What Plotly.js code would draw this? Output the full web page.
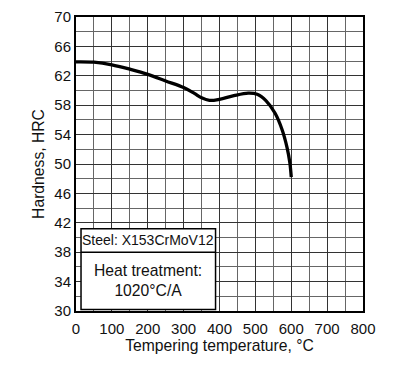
<!DOCTYPE html>
<html><head><meta charset="utf-8">
<script src="https://cdn.plot.ly/plotly-3.0.1.min.js"></script>
<style>html,body{margin:0;padding:0;background:#fff}#c{width:417px;height:372px}</style>
</head><body><div id="c"></div>
<script>
const temperature = [0, 50, 100, 150, 200, 250, 300, 330, 350, 372, 400, 440, 480, 505, 530, 555, 575, 588, 596, 600];
const hardness = [63.9, 63.85, 63.5, 62.9, 62.2, 61.3, 60.4, 59.6, 59.0, 58.65, 58.8, 59.3, 59.65, 59.5, 58.6, 56.9, 54.6, 52.3, 50.2, 48.2];
const xTicks = [0, 100, 200, 300, 400, 500, 600, 700, 800];
const yTicks = [30, 34, 38, 42, 46, 50, 54, 58, 62, 66, 70];
const steelLabel = 'Steel: X153CrMoV12';
const treatmentLabel = 'Heat treatment:<br>1020°C/A';

const family = 'Liberation Sans, Arial, sans-serif';
const tickFont = {family: family, size: 15, color: '#111'};
const titleFont = {family: family, size: 15.7, color: '#111'};

Plotly.newPlot('c', [{
  x: temperature, y: hardness, type: 'scatter', mode: 'lines',
  line: {color: '#000', width: 3.3, shape: 'spline', smoothing: 1.0},
  hoverinfo: 'skip'
}], {
  width: 417, height: 372,
  margin: {l: 76, r: 54, t: 17, b: 61},
  paper_bgcolor: '#fff', plot_bgcolor: '#fff',
  showlegend: false,
  font: tickFont,
  xaxis: {
    range: [0, 800], tickvals: xTicks, ticktext: xTicks.map(String),
    showgrid: true, gridcolor: '#333', gridwidth: 1,
    minor: {dtick: 50, tick0: 0, showgrid: true, gridcolor: '#666', gridwidth: 1},
    showline: true, linecolor: '#000', linewidth: 2, mirror: true,
    ticks: 'outside', ticklen: 3, tickcolor: 'rgba(0,0,0,0)', zeroline: false,
    tickfont: tickFont,
    title: {text: 'Tempering temperature, °C', font: titleFont, standoff: 4}
  },
  yaxis: {
    range: [30, 70], tickvals: yTicks, ticktext: yTicks.map(String),
    showgrid: true, gridcolor: '#333', gridwidth: 1,
    minor: {dtick: 2, tick0: 30, showgrid: true, gridcolor: '#666', gridwidth: 1},
    showline: true, linecolor: '#000', linewidth: 2, mirror: true,
    ticks: '', zeroline: false,
    tickfont: tickFont,
    title: {text: 'Hardness, HRC', font: titleFont, standoff: 6}
  },
  shapes: [
    {type: 'rect', xref: 'x', yref: 'y', x0: 14, x1: 389, y0: 30.2, y1: 41.2,
     fillcolor: '#fff', line: {color: '#000', width: 1.5}, layer: 'above'},
    {type: 'line', xref: 'x', yref: 'y', x0: 14, x1: 389, y0: 38.0, y1: 38.0,
     line: {color: '#000', width: 1.5}, layer: 'above'}
  ],
  annotations: [
    {xref: 'x', yref: 'y', x: 201, y: 39.6, text: steelLabel, showarrow: false,
     font: {family: family, size: 14, color: '#111'}, xanchor: 'center', yanchor: 'middle'},
    {xref: 'x', yref: 'y', x: 201, y: 34.2, text: treatmentLabel, showarrow: false,
     font: {family: family, size: 15.7, color: '#111'}, xanchor: 'center', yanchor: 'middle', align: 'center'}
  ]
}, {staticPlot: true, displayModeBar: false});
</script></body></html>
